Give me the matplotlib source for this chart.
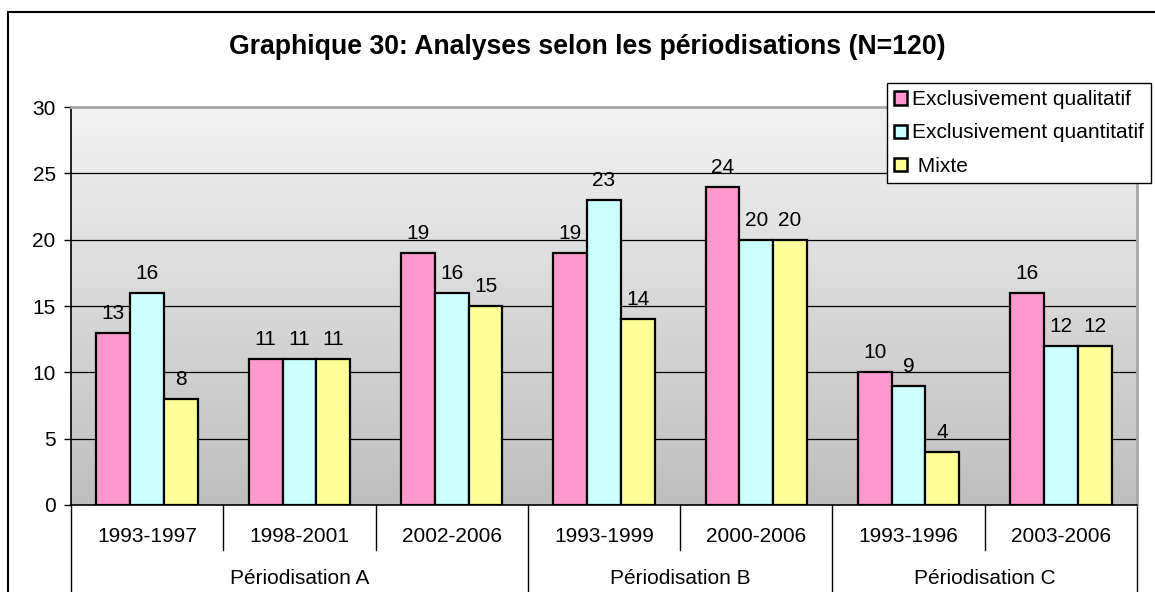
import numpy as np
import matplotlib.pyplot as plt
import matplotlib.transforms as mtransforms
from matplotlib.patches import Rectangle

plt.rcParams['font.family'] = ['Liberation Sans', 'DejaVu Sans']

# data
periods = ['1993-1997', '1998-2001', '2002-2006', '1993-1999', '2000-2006', '1993-1996', '2003-2006']
groups = ['Périodisation A', 'Périodisation B', 'Périodisation C']
group_sizes = [3, 2, 2]
qualitatif = [13, 11, 19, 19, 24, 10, 16]
quantitatif = [16, 11, 16, 23, 20, 9, 12]
mixte = [8, 11, 15, 14, 20, 4, 12]
series_names = ['Exclusivement qualitatif', 'Exclusivement quantitatif', ' Mixte']
colors = ['#FF99CC', '#CCFFFF', '#FFFF99']

W, H = 1155, 592
fs = 15
fig = plt.figure(figsize=(W / 100, H / 100), dpi=100)
fig.patch.set_facecolor('white')

# outer chart border (runs off the right and bottom edge)
fig.patches.append(Rectangle((8 / W, -0.05), 1.1, 1 - 12 / H + 0.05, transform=fig.transFigure,
                             fill=False, edgecolor='black', linewidth=1.5, zorder=0))

ax = fig.add_axes([71 / W, (H - 505) / H, (1137 - 71) / W, (505 - 107) / H])
x = np.arange(len(periods))
ax.set_xlim(-0.5, len(periods) - 0.5)
ax.set_ylim(0, 30)

# gradient plot area
grad = np.linspace(0, 1, 256).reshape(-1, 1)
top = np.array([0xF2, 0xF2, 0xF2]) / 255
bot = np.array([0xBE, 0xBE, 0xBE]) / 255
img = top + (bot - top) * grad[:, :, None]
ax.imshow(img, extent=[0, 1, 0, 1], transform=ax.transAxes, aspect='auto', zorder=0)

for yv in range(5, 30, 5):
    ax.axhline(yv, color='black', linewidth=0.9, zorder=1)

w = 0.222
for i, (vals, c) in enumerate(zip([qualitatif, quantitatif, mixte], colors)):
    bars = ax.bar(x + (i - 1) * w, vals, width=w, color=c, edgecolor='black',
                  linewidth=1.6, label=series_names[i], zorder=3)
    for b, v in zip(bars, vals):
        ax.annotate(str(v), (b.get_x() + b.get_width() / 2, v), xytext=(0, 14),
                    textcoords='offset points', ha='center', va='center', fontsize=fs)

ax.set_yticks(range(0, 31, 5))
ax.tick_params(axis='y', direction='out', length=5, width=1, labelsize=fs, pad=6)
ax.set_xticks([])
for s in ['top', 'right']:
    ax.spines[s].set_color('#A8A8A8')
    ax.spines[s].set_linewidth(2)
ax.spines['left'].set_linewidth(1.2)
ax.spines['bottom'].set_linewidth(1.2)

# two-level category axis below the plot
tr = mtransforms.blended_transform_factory(ax.transData, fig.transFigure)
y_axis = (H - 505) / H
y_inner = (H - 550) / H
for i, p in enumerate(periods):
    ax.text(i, (H - 536) / H, p, transform=tr, ha='center', va='center', fontsize=fs, clip_on=False)
bounds = np.cumsum([0] + group_sizes)
for k in range(1, len(periods)):
    if k not in bounds:
        ax.plot([k - 0.5, k - 0.5], [y_axis, y_inner], transform=tr, color='black',
                linewidth=1, clip_on=False)
for k in bounds:
    ax.plot([k - 0.5, k - 0.5], [y_axis, 0], transform=tr, color='black',
            linewidth=1, clip_on=False)
for g, a, b in zip(groups, bounds[:-1], bounds[1:]):
    ax.text((a + b - 1) / 2, (H - 578) / H, g, transform=tr, ha='center', va='center',
            fontsize=fs, clip_on=False)

fig.text(587 / W, 1 - 47 / H, 'Graphique 30: Analyses selon les périodisations (N=120)',
         ha='center', va='center', fontsize=19.2, fontweight='bold')

leg = fig.legend(loc='upper left', bbox_to_anchor=(887 / W, 1 - 83 / H), fontsize=fs,
                 frameon=True, fancybox=False, edgecolor='black', framealpha=1,
                 handlelength=0.6, handleheight=0.6, handletextpad=0.25,
                 borderpad=0.35, labelspacing=0.68, borderaxespad=0)
leg.get_frame().set_linewidth(1)
for h in leg.legend_handles:
    h.set_linewidth(1.8)

fig.savefig('out.png', dpi=100)
